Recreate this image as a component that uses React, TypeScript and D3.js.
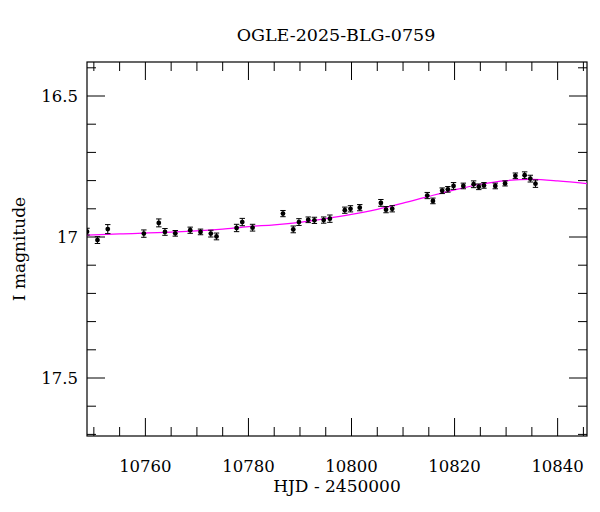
import { useEffect, useRef } from "react";
import * as d3 from "d3";

// photometry
const hjd = [10748.67, 10750.7, 10752.7, 10759.7, 10762.6, 10763.8, 10765.8, 10768.7, 10770.7, 10772.7, 10773.8, 10777.7, 10778.8, 10780.8, 10786.7, 10788.7, 10789.8, 10791.6, 10792.8, 10794.6, 10795.8, 10798.7, 10799.8, 10801.6, 10805.7, 10806.7, 10807.9, 10814.7, 10815.8, 10817.6, 10818.7, 10819.8, 10821.7, 10823.7, 10824.7, 10825.7, 10827.9, 10829.8, 10831.8, 10833.6, 10834.7, 10835.7];
const mag = [16.981, 17.011, 16.972, 16.988, 16.95, 16.982, 16.987, 16.976, 16.982, 16.988, 16.998, 16.968, 16.947, 16.967, 16.917, 16.973, 16.947, 16.939, 16.941, 16.94, 16.935, 16.905, 16.9, 16.896, 16.879, 16.903, 16.9, 16.853, 16.872, 16.836, 16.831, 16.819, 16.819, 16.813, 16.822, 16.817, 16.819, 16.81, 16.783, 16.781, 16.793, 16.811];
const magErr = [0.012, 0.012, 0.016, 0.013, 0.014, 0.012, 0.01, 0.011, 0.01, 0.012, 0.012, 0.013, 0.013, 0.012, 0.011, 0.012, 0.012, 0.01, 0.011, 0.011, 0.013, 0.011, 0.011, 0.011, 0.012, 0.011, 0.011, 0.011, 0.01, 0.01, 0.01, 0.012, 0.01, 0.012, 0.01, 0.01, 0.01, 0.009, 0.01, 0.012, 0.012, 0.013];

// model curve
const modelT = [10748.67, 10755, 10765, 10775, 10780, 10785, 10790, 10795, 10800, 10805, 10810, 10815, 10820, 10825, 10830, 10835, 10840, 10845.7];
const modelMag = [16.993, 16.989, 16.983, 16.972, 16.963, 16.957, 16.948, 16.935, 16.92, 16.902, 16.88, 16.856, 16.833, 16.813, 16.8, 16.796, 16.801, 16.811];

const xMajor = [10760, 10780, 10800, 10820, 10840];
const yMajor = [16.5, 17, 17.5];
const yMajorLabels = ["16.5", "17", "17.5"];

const W = 600;
const H = 512;
const plot = { left: 87, right: 587, top: 62, bottom: 436 };
const FONT = "DejaVu Serif, serif";

export default function App() {
  const svgRef = useRef<SVGSVGElement>(null);

  useEffect(() => {
    if (!svgRef.current) return;
    const svg = d3.select(svgRef.current);
    svg.selectAll("*").remove();

    const x = d3.scaleLinear().domain([10748.67, 10845.7]).range([plot.left, plot.right]);
    const y = d3.scaleLinear().domain([16.5, 17.5]).range([96, 378]);

    svg.append("defs").append("clipPath").attr("id", "plotclip")
      .append("rect")
      .attr("x", plot.left).attr("y", plot.top)
      .attr("width", plot.right - plot.left).attr("height", plot.bottom - plot.top);

    // ticks on all four sides, pointing inward
    const xMinor = d3.range(10750, 10846, 5);
    const yMinor = d3.range(16.4, 17.71, 0.1).map((v) => +v.toFixed(1));
    const ticks = svg.append("g").attr("stroke", "#000").attr("stroke-width", 1);
    xMinor.forEach((t) => {
      const len = xMajor.includes(t) ? 18 : 9;
      const px = x(t);
      ticks.append("line").attr("x1", px).attr("x2", px).attr("y1", plot.bottom).attr("y2", plot.bottom - len);
      ticks.append("line").attr("x1", px).attr("x2", px).attr("y1", plot.top).attr("y2", plot.top + len);
    });
    yMinor.forEach((m) => {
      const len = yMajor.includes(m) ? 18 : 9;
      const py = y(m);
      ticks.append("line").attr("x1", plot.left).attr("x2", plot.left + len).attr("y1", py).attr("y2", py);
      ticks.append("line").attr("x1", plot.right).attr("x2", plot.right - len).attr("y1", py).attr("y2", py);
    });

    svg.append("rect")
      .attr("x", plot.left).attr("y", plot.top)
      .attr("width", plot.right - plot.left).attr("height", plot.bottom - plot.top)
      .attr("fill", "none").attr("stroke", "#000").attr("stroke-width", 1.2);

    const clipped = svg.append("g").attr("clip-path", "url(#plotclip)");

    // model
    const line = d3.line<number>()
      .x((_, i) => x(modelT[i]))
      .y((d) => y(d))
      .curve(d3.curveMonotoneX);
    clipped.append("path")
      .attr("d", line(modelMag))
      .attr("fill", "none")
      .attr("stroke", "#ff00ff")
      .attr("stroke-width", 1.2);

    // data with error bars
    const pts = clipped.append("g");
    hjd.forEach((t, i) => {
      const px = x(t);
      const y0 = y(mag[i] - magErr[i]);
      const y1 = y(mag[i] + magErr[i]);
      const g = pts.append("g").attr("stroke", "#000").attr("stroke-width", 1);
      g.append("line").attr("x1", px).attr("x2", px).attr("y1", y0).attr("y2", y1);
      g.append("line").attr("x1", px - 2.7).attr("x2", px + 2.7).attr("y1", y0).attr("y2", y0);
      g.append("line").attr("x1", px - 2.7).attr("x2", px + 2.7).attr("y1", y1).attr("y2", y1);
      pts.append("circle").attr("cx", px).attr("cy", y(mag[i])).attr("r", 2.4).attr("fill", "#000");
    });

    // tick labels
    const labels = svg.append("g").attr("font-family", FONT).attr("font-size", 16.5).attr("fill", "#000");
    xMajor.forEach((t) => {
      labels.append("text").attr("x", x(t)).attr("y", 472).attr("text-anchor", "middle").text(String(t));
    });
    yMajor.forEach((m, i) => {
      labels.append("text").attr("x", 78).attr("y", y(m) + 6).attr("text-anchor", "end").text(yMajorLabels[i]);
    });

    svg.append("text")
      .attr("x", (plot.left + plot.right) / 2).attr("y", 492)
      .attr("text-anchor", "middle")
      .attr("font-family", FONT).attr("font-size", 17)
      .text("HJD - 2450000");

    svg.append("text")
      .attr("transform", `translate(25, ${(plot.top + plot.bottom) / 2}) rotate(-90)`)
      .attr("text-anchor", "middle")
      .attr("font-family", FONT).attr("font-size", 17)
      .text("I magnitude");

    svg.append("text")
      .attr("x", 336).attr("y", 41)
      .attr("text-anchor", "middle")
      .attr("font-family", FONT).attr("font-size", 17.5)
      .text("OGLE-2025-BLG-0759");
  }, []);

  return (
    <svg
      ref={svgRef}
      width={W}
      height={H}
      style={{ position: "absolute", left: 0, top: 0, background: "#fff", display: "block" }}
    />
  );
}
